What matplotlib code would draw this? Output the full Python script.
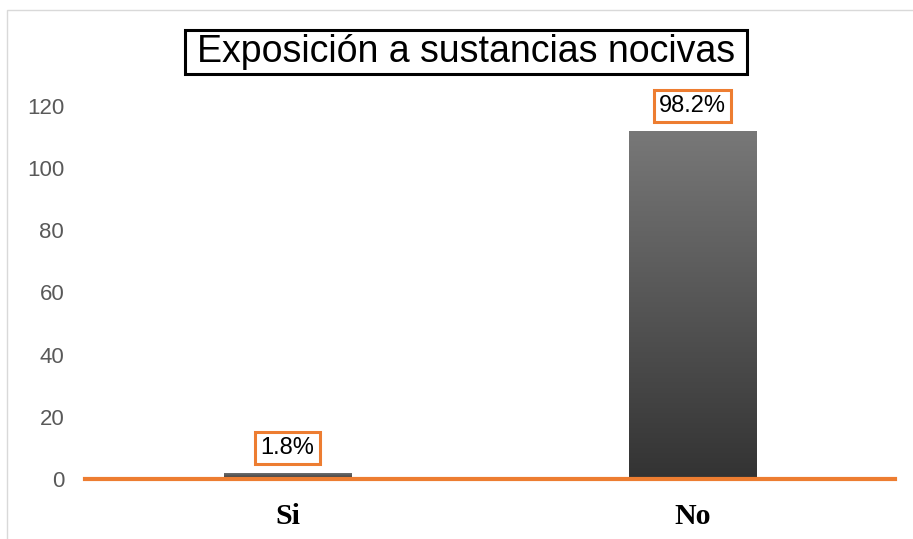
import numpy as np
import matplotlib.pyplot as plt
from matplotlib.patches import Rectangle
from matplotlib.colors import LinearSegmentedColormap

# datos
categorias = ["Si", "No"]
valores = [2, 112]
etiquetas = ["1.8%", "98.2%"]

naranja = "#ED7D31"

fig = plt.figure(figsize=(9.13, 5.39), dpi=100)
ax = fig.add_axes([85 / 913, 1 - 479 / 539, 810 / 913, (479 - 106) / 539])

x = np.arange(len(categorias))
barras = ax.bar(x, valores, width=0.316, color="none", edgecolor="none", zorder=2)

# degradado gris de cada barra
cmap = LinearSegmentedColormap.from_list("gris", ["#333333", "#787878"])
grad = np.linspace(0, 1, 256).reshape(-1, 1)
for b in barras:
    x0, y0 = b.get_x(), b.get_y()
    w, h = b.get_width(), b.get_height()
    im = ax.imshow(grad, extent=[x0, x0 + w, y0, y0 + h], origin="lower",
                   cmap=cmap, aspect="auto", zorder=2)
    im.set_clip_path(b)

ax.set_xlim(-0.5, 1.5)
ax.set_ylim(0, 120)
ax.set_yticks(range(0, 121, 20))

for s in ["top", "right", "left"]:
    ax.spines[s].set_visible(False)
ax.spines["bottom"].set_color(naranja)
ax.spines["bottom"].set_linewidth(3)
ax.spines["bottom"].set_zorder(3)

ax.tick_params(axis="y", length=0, pad=15, labelsize=16, labelcolor="#595959")
ax.tick_params(axis="x", length=0, pad=17)
ax.set_xticks(x)
ax.set_xticklabels(categorias, fontfamily="Liberation Serif", fontweight="bold",
                   fontsize=21.5, color="black")
for t in ax.get_yticklabels():
    t.set_fontfamily("Liberation Sans")

# etiquetas con recuadro naranja
for xi, v, lab in zip(x, valores, etiquetas):
    ax.annotate(lab, (xi, v), xytext=(0, 10), textcoords="offset points",
                ha="center", va="bottom", fontsize=17, fontfamily="Liberation Sans",
                bbox=dict(boxstyle="square,pad=0.22", fc="white", ec=naranja, lw=2.2),
                annotation_clip=False)

# titulo con recuadro negro
titulo = fig.text(466 / 913, 1 - 52 / 539, "Exposición a sustancias nocivas",
                  ha="center", va="center", fontsize=27, fontfamily="Liberation Sans",
                  zorder=3)
fig.canvas.draw()
bb = titulo.get_window_extent().transformed(fig.transFigure.inverted())
dx, dy = 12 / 913, 4 / 539
fig.patches.append(Rectangle((bb.x0 - dx, bb.y0 - dy), bb.width + 2 * dx, bb.height + 2 * dy,
                             transform=fig.transFigure, fill=True, fc="white",
                             ec="black", lw=2.2, zorder=2))

# borde del area del grafico
fig.patches.append(Rectangle((7 / 913, -0.1), 1.1, 1.1 - 10 / 539, transform=fig.transFigure,
                             fill=False, ec="#d9d9d9", lw=1))

fig.savefig("out.png", dpi=100)
